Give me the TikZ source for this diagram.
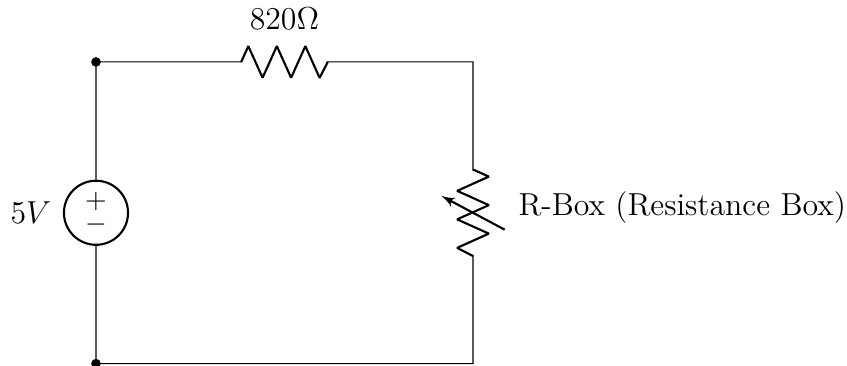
\RequirePackage{fix-cm}
\documentclass[tikz,border=0pt]{standalone}
\usepackage[american]{circuitikz}
\usetikzlibrary{positioning}

\begin{document}
\begin{tikzpicture}[
      font=\fontsize{12}{14.4}\selectfont,
      srcbody/.style={circle, draw, line width=0.8pt, minimum size=0.85cm, inner sep=0pt},
      sign/.style={font=\fontsize{10.5}{12}\selectfont, inner sep=0pt}
    ]
    \useasboundingbox (-1.273,-0.032) rectangle (9.96,4.822);

    % corners of the loop
    \coordinate (topleft) at (0,4);
    \coordinate (botleft) at (0,0);
    \coordinate (botright) at (5,0);
    \coordinate (topright) at (5,4);

    % source
    \node[srcbody] (src) at (0,2) {};
    \node[sign] (plus) at ([yshift=0.15cm]src.center) {$+$};
    \node[sign] (minus) at ([yshift=-0.15cm]src.center) {$-$};
    \node[left=0.03cm of src] (srclab) {$5V$};

    \draw (src.south) -- (botleft)
        -- (botright)
        to[vR] (topright)
        to[R] (topleft)
        -- (src.north);
    \node[circ] (dottop) at (topleft) {};
    \node[circ] (dotbot) at (botleft) {};

    \node[anchor=base] (rlab) at (2.5,4.424) {$820\Omega$};
    \node[anchor=base west] (rboxlab) at (5.48,1.97) {R-Box (Resistance Box)};
\end{tikzpicture}
\end{document}
